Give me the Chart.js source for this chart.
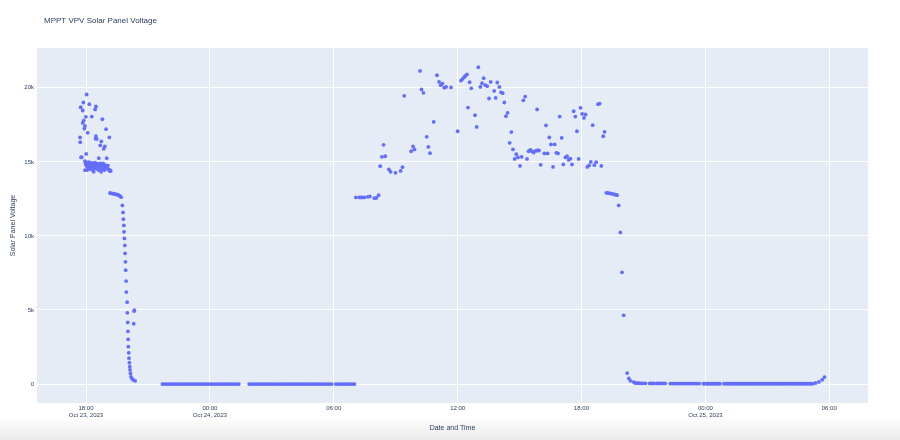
<!DOCTYPE html>
<html><head><meta charset="utf-8">
<script src="https://cdn.jsdelivr.net/npm/chart.js@4.4.0/dist/chart.umd.min.js"></script>
<style>
html,body{margin:0;padding:0;width:900px;height:440px;overflow:hidden;background:linear-gradient(to bottom,#ffffff 0px,#ffffff 416px,#eaeaea 440px);}
#wrap{position:relative;width:900px;height:440px;}
</style></head><body><div id="wrap"><canvas id="c" width="900" height="440"></canvas></div>
<script>
const chartTitle = "MPPT VPV Solar Panel Voltage";
const xTitle = "Date and Time";
const yTitle = "Solar Panel Voltage";
// x values are hours since Oct 23, 2023 00:00
const xTickHours = [18, 24, 30, 36, 42, 48, 54];
const xTickLabels = [["18:00","Oct 23, 2023"], ["00:00","Oct 24, 2023"], "06:00", "12:00", "18:00", ["00:00","Oct 25, 2023"], "06:00"];
const yTickValues = [0, 5000, 10000, 15000, 20000];
const yTickLabels = ["0", "5k", "10k", "15k", "20k"];

const eveningScatter = [
 [18.03,19550],[17.87,19010],[18.16,18900],[17.74,18690],[17.84,18470],[18.48,18740],[18.44,18540],
 [18.28,18060],[17.99,18040],[17.89,17790],[17.84,17630],[18.79,17880],[17.95,17430],[17.92,17250],
 [18.97,17210],[18.08,16960],[17.71,16650],[19.13,16650],[18.46,16570],[18.48,16740],[18.52,16550],
 [17.72,16330],[18.74,16380],[18.69,16110],[18.91,16040],[18.86,15880],[18.01,15540],[17.79,15320],
 [17.76,15300],[18.62,15250],[19.00,15250]
];
const eveningBand = [
 [17.95,15050],[17.98,14900],[18.00,14800],[18.02,14950],[18.04,14700],[18.06,14450],[18.08,14850],
 [18.10,14600],[18.12,14980],[18.14,14750],[18.16,14550],[18.18,14880],[18.20,14700],[18.22,14950],
 [18.24,14500],[18.26,14800],[18.28,14650],[18.30,14900],[18.32,14750],[18.35,14400],[18.38,14850],
 [18.40,14600],[18.42,14950],[18.45,14700],[18.48,14800],[18.50,14550],[18.52,14900],[18.55,14650],
 [18.58,14780],[18.60,14450],[18.63,14850],[18.66,14700],[18.70,14900],[18.72,14600],[18.75,14800],
 [18.78,14500],[18.80,14750],[18.83,14900],[18.86,14650],[18.90,14450],[18.93,14780],[18.96,14600],
 [19.00,14700],[19.03,14550],[19.06,14750],[19.10,14500],[19.13,14400],[19.16,14450],[19.20,14380],
 [17.95,14440],[18.37,14330],[18.73,14330]
];
const eveningDrop = [
 [19.16,12900],[19.22,12880],[19.28,12860],[19.34,12850],[19.40,12830],[19.46,12810],[19.52,12780],
 [19.58,12750],[19.64,12700],[19.70,12620],[19.76,12060],[19.79,11590],[19.81,11130],[19.83,10710],
 [19.84,10280],[19.86,9830],[19.88,9360],[19.89,8820],[19.91,8250],[19.92,7690],[19.94,6950],
 [19.95,6210],[19.99,5530],[20.00,4810],[20.34,4990],[20.33,4930],[20.02,4160],[20.31,4070],
 [20.03,3560],[20.04,3020],[20.05,2520],[20.07,2110],[20.08,1750],[20.10,1440],[20.12,1170],
 [20.13,950],[20.15,720],[20.18,490],[20.23,360],[20.29,270],[20.38,220]
];
const nightOne = [
 [21.7,0],[21.8,0],[21.9,0],[22.0,0],[22.1,0],[22.2,0],[22.3,0],[22.4,0],[22.5,0],[22.6,0],[22.7,0],
 [22.8,0],[22.9,0],[23.0,0],[23.1,0],[23.2,0],[23.3,0],[23.4,0],[23.5,0],[23.6,0],[23.7,0],[23.8,0],
 [23.9,0],[24.0,0],[24.1,0],[24.2,0],[24.3,0],[24.4,0],[24.5,0],[24.6,0],[24.7,0],[24.8,0],[24.9,0],
 [25.0,0],[25.1,0],[25.2,0],[25.3,0],[25.4,0],
 [25.9,0],[26.0,0],[26.1,0],[26.2,0],[26.3,0],[26.4,0],[26.5,0],[26.6,0],[26.7,0],[26.8,0],[26.9,0],
 [27.0,0],[27.1,0],[27.2,0],[27.3,0],[27.4,0],[27.5,0],[27.6,0],[27.7,0],[27.8,0],[27.9,0],[28.0,0],
 [28.1,0],[28.2,0],[28.3,0],[28.4,0],[28.5,0],[28.6,0],[28.7,0],[28.8,0],[28.9,0],[29.0,0],[29.1,0],
 [29.2,0],[29.3,0],[29.38,0],
 [29.5,0],[29.6,0],[29.7,0],[29.8,0],[29.9,0],
 [30.1,0],[30.2,0],[30.3,0],[30.4,0],[30.5,0],[30.6,0],[30.7,0],[30.8,0],[30.9,0],[31.0,0]
];
const daytime = [
 [31.07,12600],[31.23,12600],[31.32,12600],[31.39,12600],[31.49,12600],[31.65,12640],[31.75,12670],
 [31.97,12550],[32.07,12570],[32.17,12750],[32.25,14710],[32.33,15340],[32.41,16150],[32.49,15380],
 [32.67,14490],[32.75,14330],[32.99,14260],[33.24,14390],[33.33,14640],[33.41,19460],[33.75,15720],
 [33.84,16040],[33.91,15840],[34.18,21140],[34.25,19890],[34.34,19660],[34.50,16690],[34.58,16010],
 [34.66,15590],[34.84,17700],[35.00,20850],[35.10,20400],[35.18,20180],[35.26,20290],[35.35,20010],
 [35.44,20060],[35.68,20030],[36.00,17070],[36.16,20490],[36.24,20600],[36.32,20720],[36.37,20810],
 [36.45,20900],[36.50,18670],[36.58,20380],[36.66,19970],[36.84,18150],[36.92,17360],[37.00,21390],
 [37.10,20060],[37.18,20310],[37.26,20650],[37.34,20180],[37.43,20110],[37.52,19280],[37.60,20400],
 [37.77,19790],[37.84,19320],[37.92,20360],[38.02,20060],[38.10,19700],[38.18,19640],[38.26,19010],
 [38.34,18090],[38.42,18310],[38.52,16290],[38.60,17010],[38.68,15840],[38.76,15200],[38.84,15520],
 [38.92,15300],[39.02,14730],[39.10,15340],[39.18,19160],[39.27,19410],[39.36,15200],[39.44,15720],
 [39.52,15810],[39.60,15720],[39.68,15630],[39.77,15740],[39.85,18540],[39.86,15770],[39.94,15770],
 [40.02,14800],[40.20,15570],[40.28,17460],[40.36,15570],[40.44,16650],[40.52,16180],[40.62,14660],
 [40.70,16180],[40.78,15610],[40.86,15570],[40.94,18060],[41.04,16620],[41.12,14830],[41.22,15300],
 [41.30,15380],[41.38,15130],[41.46,15220],[41.54,14830],[41.62,18420],[41.70,18060],[41.78,17070],
 [41.86,15200],[41.95,18650],[42.03,18240],[42.12,17970],[42.20,18200],[42.28,14660],[42.37,14760],
 [42.45,15000],[42.54,17480],[42.62,14780],[42.71,14980],[42.80,18900],[42.88,18940],[42.96,14730],
 [43.05,16730],[43.12,17030],
 [43.20,12910],[43.28,12900],[43.36,12880],[43.44,12860],[43.52,12830],[43.60,12800],[43.68,12770],
 [43.72,12750],[43.80,12060],[43.88,10240],[43.96,7540],[44.04,4640],[44.21,740],[44.29,380],
 [44.37,220],[44.53,130]
];
const nightTwo = [
 [44.6,70],[44.7,60],[44.8,60],[44.9,50],[45.0,50],[45.1,50],
 [45.3,40],[45.4,40],[45.5,40],
 [45.65,40],[45.75,40],[45.85,40],[45.95,40],[46.05,40],
 [46.3,30],[46.4,30],[46.5,30],[46.6,30],[46.7,30],[46.8,30],[46.9,30],[47.0,30],[47.1,30],[47.2,30],
 [47.3,30],[47.4,30],[47.5,30],[47.6,30],[47.7,30],
 [47.9,20],[48.0,20],[48.1,20],[48.2,20],[48.3,20],[48.4,20],[48.5,20],[48.6,20],[48.7,20],
 [48.9,20],[49.0,20],[49.1,20],[49.2,20],[49.3,20],[49.4,20],[49.5,20],[49.6,20],[49.7,20],[49.8,20],
 [49.9,20],[50.0,20],[50.1,20],[50.2,20],[50.3,20],[50.4,20],[50.5,20],[50.6,20],[50.7,20],[50.8,20],
 [50.9,20],[51.0,20],[51.1,20],[51.2,20],[51.3,20],[51.4,20],[51.5,20],[51.6,20],[51.7,20],[51.8,20],
 [51.9,20],[52.0,20],[52.1,20],[52.2,20],[52.3,20],[52.4,20],[52.5,20],[52.6,20],[52.7,20],[52.8,20],
 [52.9,20],[53.0,20],[53.1,20],[53.2,20],
 [53.34,70],[53.50,140],[53.66,290],[53.77,470]
];

const allPoints = [...eveningScatter, ...eveningBand, ...eveningDrop, ...nightOne, ...daytime, ...nightTwo]
  .map(([x, y]) => ({x, y}));

const FONT = '"Liberation Sans", Arial, sans-serif';
const TEXT = '#2a3f5f';

const plotBg = {
  id: 'plotBg',
  beforeDraw(chart) {
    const {ctx, chartArea: a} = chart;
    ctx.save();
    ctx.fillStyle = '#e5ecf6';
    ctx.fillRect(a.left, a.top, a.right - a.left, a.bottom - a.top);
    ctx.restore();
  },
  afterDraw(chart) {
    const ctx = chart.ctx;
    ctx.save();
    ctx.font = '8px ' + FONT;
    ctx.fillStyle = TEXT;
    ctx.textBaseline = 'middle';
    ctx.textAlign = 'left';
    ctx.fillText(chartTitle, 44, 21);
    ctx.restore();
  }
};

new Chart(document.getElementById('c'), {
  type: 'scatter',
  data: { datasets: [{
    data: allPoints,
    backgroundColor: '#636efa',
    borderWidth: 0,
    pointRadius: 1.9,
    pointHoverRadius: 1.9,
    showLine: false
  }]},
  options: {
    responsive: false,
    devicePixelRatio: 1,
    animation: false,
    layout: { padding: { left: 0, top: 48, right: 32, bottom: 0 } },
    plugins: { legend: { display: false }, tooltip: { enabled: false }, title: { display: false } },
    scales: {
      x: {
        type: 'linear',
        min: 15.625, max: 55.876,
        afterBuildTicks: s => { s.ticks = xTickHours.map(v => ({value: v})); },
        afterFit: s => { s.height = 37; },
        ticks: {
          autoSkip: false, maxRotation: 0, minRotation: 0,
          font: { family: FONT, size: 6, lineHeight: 1.2 }, color: TEXT, padding: 2,
          callback: v => { const i = xTickHours.indexOf(v); return i >= 0 ? xTickLabels[i] : ''; }
        },
        grid: { color: '#ffffff', lineWidth: 1, drawTicks: false },
        border: { display: false },
        title: { display: true, text: xTitle, color: TEXT, font: { family: FONT, size: 7, lineHeight: 1.2 }, padding: { top: 0, bottom: 8 } }
      },
      y: {
        type: 'linear',
        min: -1280, max: 22690,
        afterBuildTicks: s => { s.ticks = yTickValues.map(v => ({value: v})); },
        afterFit: s => { s.width = 37; },
        ticks: {
          font: { family: FONT, size: 6 }, color: TEXT, padding: 3,
          callback: v => { const i = yTickValues.indexOf(v); return i >= 0 ? yTickLabels[i] : ''; }
        },
        grid: { color: '#ffffff', lineWidth: 1, drawTicks: false },
        border: { display: false },
        title: { display: true, text: yTitle, color: TEXT, font: { family: FONT, size: 7, lineHeight: 1.2 }, padding: { top: 9, bottom: 0 } }
      }
    }
  },
  plugins: [plotBg]
});
</script></body></html>
